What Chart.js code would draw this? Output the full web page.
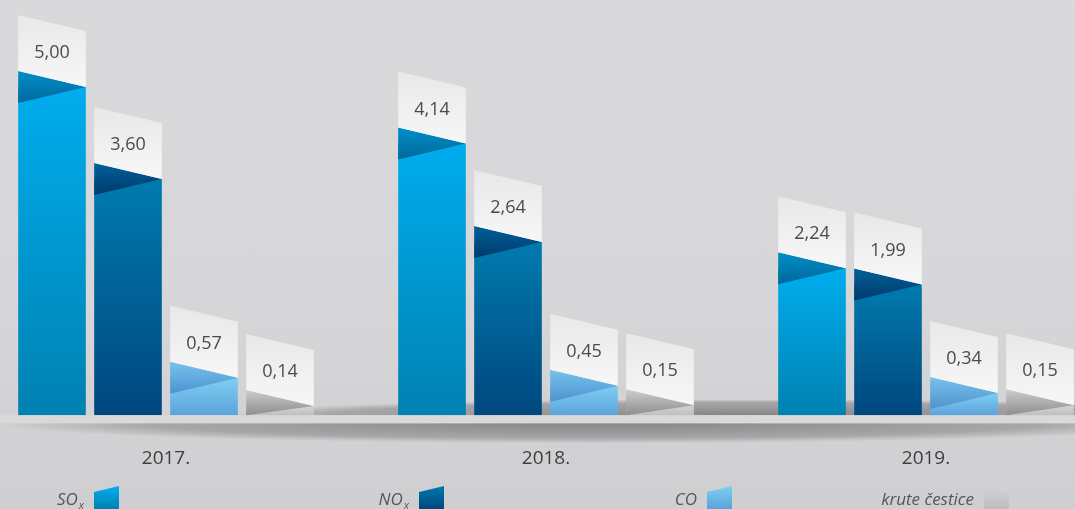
<!DOCTYPE html>
<html>
<head>
<meta charset="utf-8">
<script src="https://cdn.jsdelivr.net/npm/chart.js@4"></script>
<style>
  html, body {
    margin: 0;
    padding: 0;
    width: 1075px;
    height: 509px;
    overflow: hidden;
    background: linear-gradient(180deg, #d9d9db 0%, #d7d7d9 55%, #cfcfd1 100%);
  }
  #wrap { position: absolute; left: -24px; top: 0; width: 1140px; height: 509px; }
</style>
</head>
<body>
<div id="wrap"><canvas id="emissionsChart" width="1140" height="509"></canvas></div>
<script>
// Data
const years = ['2017.', '2018.', '2019.'];
const seriesNames = ['SOx', 'NOx', 'CO', 'krute čestice'];
const subscriptChars = [1, 1, 0, 0];
const soValues = [5.00, 4.14, 2.24];
const noValues = [3.60, 2.64, 1.99];
const coValues = [0.57, 0.45, 0.34];
const dustValues = [0.14, 0.15, 0.15];
const seriesValues = [soValues, noValues, coValues, dustValues];

// Colours per series
const palette = [
    { top: '#00adee', bottom: '#0081b1', foldTop: '#0090c8', foldBottom: '#00679b' },
    { top: '#007bae', bottom: '#00467e', foldTop: '#00609a', foldBottom: '#003a6c' },
    { top: '#7fcff2', bottom: '#5aa2db', foldTop: '#76c2ee', foldBottom: '#4f93cf' },
    { top: '#d4d4d6', bottom: '#bdbdbf', foldTop: '#cdcdcf', foldBottom: '#8e8e91' }
];

const FONT = '"Open Sans", "Noto Sans", sans-serif';

function barGradient(context) {
    const chart = context.chart;
    const colors = palette[context.datasetIndex];
    if (!chart.chartArea || context.type !== 'data') return colors.bottom;
    const yScale = chart.scales.y;
    const top = yScale.getPixelForValue(context.raw);
    const base = yScale.getPixelForValue(0);
    const g = chart.ctx.createLinearGradient(0, top, 0, base + 1);
    g.addColorStop(0, colors.top);
    g.addColorStop(1, colors.bottom);
    return g;
}

function formatValue(v) {
    return v.toFixed(2).replace('.', ',');
}

// shadowed shelf the bars stand on
const shelfPlugin = {
    id: 'shelf',
    beforeDatasetsDraw(chart) {
        const ctx = chart.ctx;
        const base = chart.scales.y.getPixelForValue(0);
        const w = chart.width;

        // darker band behind the bar feet
        ctx.save();
        ctx.beginPath();
        ctx.rect(0, base - 16, w, 16);
        ctx.clip();
        ctx.translate(770, base);
        ctx.scale(1, 16 / 520);
        let rg = ctx.createRadialGradient(0, 0, 0, 0, 0, 520);
        rg.addColorStop(0, 'rgba(85,85,88,0.6)');
        rg.addColorStop(0.8, 'rgba(85,85,88,0.35)');
        rg.addColorStop(1, 'rgba(85,85,88,0)');
        ctx.fillStyle = rg;
        ctx.fillRect(-520, -520, 1040, 1040);
        ctx.restore();

        // shadow under the shelf
        ctx.save();
        ctx.beginPath();
        ctx.rect(0, base + 8, w, 30);
        ctx.clip();
        ctx.translate(620, base + 8);
        ctx.scale(1, 20 / 600);
        rg = ctx.createRadialGradient(0, 0, 0, 0, 0, 600);
        rg.addColorStop(0, 'rgba(70,70,72,0.55)');
        rg.addColorStop(0.75, 'rgba(70,70,72,0.3)');
        rg.addColorStop(1, 'rgba(70,70,72,0)');
        ctx.fillStyle = rg;
        ctx.fillRect(-600, -600, 1200, 1200);
        ctx.restore();

        // light shelf strip
        ctx.fillStyle = '#d9d9da';
        ctx.fillRect(0, base, w, 8);
    }
};

// folded value tags on top of each bar
const ribbonPlugin = {
    id: 'ribbons',
    afterDatasetsDraw(chart) {
        const ctx = chart.ctx;
        const fold = 16, tag = 56;
        chart.data.datasets.forEach((ds, di) => {
            const meta = chart.getDatasetMeta(di);
            const colors = palette[di];
            meta.data.forEach((bar, i) => {
                const { x, y, base, width } = bar.getProps(['x', 'y', 'base', 'width'], true);
                const left = x - width / 2;
                const right = x + width / 2;
                const foldBottom = Math.min(y + fold, base);

                ctx.save();
                let g = ctx.createLinearGradient(0, y - fold, 0, foldBottom);
                g.addColorStop(0, colors.foldTop);
                g.addColorStop(1, colors.foldBottom);
                ctx.fillStyle = g;
                ctx.beginPath();
                ctx.moveTo(left, y - fold);
                ctx.lineTo(right, y);
                ctx.lineTo(left, foldBottom);
                ctx.closePath();
                ctx.fill();

                g = ctx.createLinearGradient(0, y - fold - tag, 0, y);
                g.addColorStop(0, '#e8e8e9');
                g.addColorStop(1, '#f7f7f7');
                ctx.fillStyle = g;
                ctx.beginPath();
                ctx.moveTo(left, y - fold - tag);
                ctx.lineTo(right, y - tag);
                ctx.lineTo(right, y);
                ctx.lineTo(left, y - fold);
                ctx.closePath();
                ctx.fill();

                ctx.fillStyle = '#4b4b4d';
                ctx.font = '18px ' + FONT;
                ctx.textAlign = 'center';
                ctx.textBaseline = 'middle';
                ctx.fillText(formatValue(ds.data[i]), x, y - tag / 2 - fold / 2 + 2);
                ctx.restore();
            });
        });
    }
};

// legend: label followed by a small slanted swatch
const legendPlugin = {
    id: 'swatchLegend',
    afterDraw(chart) {
        const ctx = chart.ctx;
        const swatchX = [118, 443, 731, 1008];
        const sw = 25;
        chart.data.datasets.forEach((ds, di) => {
            const sx = swatchX[di];
            const colors = palette[di];
            ctx.save();
            const g = ctx.createLinearGradient(0, 486, 0, 509);
            g.addColorStop(0, colors.top);
            g.addColorStop(1, colors.bottom);
            ctx.fillStyle = g;
            ctx.beginPath();
            ctx.moveTo(sx, 492);
            ctx.lineTo(sx + sw, 486);
            ctx.lineTo(sx + sw, 509);
            ctx.lineTo(sx, 509);
            ctx.closePath();
            ctx.fill();

            const label = ds.label;
            const n = subscriptChars[di];
            const main = label.slice(0, label.length - n);
            const sub = label.slice(label.length - n);
            let rightX = sx - 10;
            ctx.fillStyle = '#565658';
            ctx.textAlign = 'right';
            ctx.textBaseline = 'alphabetic';
            if (sub) {
                ctx.font = 'italic 11px ' + FONT;
                ctx.fillText(sub, rightX, 509);
                rightX -= ctx.measureText(sub).width + 1;
            }
            ctx.font = 'italic 17px ' + FONT;
            ctx.fillText(main, rightX, 505);
            ctx.restore();
        });
    }
};

document.addEventListener('DOMContentLoaded', function() {
    const ctx = document.getElementById('emissionsChart').getContext('2d');

    new Chart(ctx, {
        type: 'bar',
        data: {
            labels: years,
            datasets: seriesValues.map((values, i) => ({
                label: seriesNames[i],
                data: values,
                backgroundColor: barGradient,
                borderWidth: 0,
                categoryPercentage: 0.8,
                barPercentage: 0.89
            }))
        },
        options: {
            responsive: false,
            animation: false,
            layout: {
                padding: { top: 87, bottom: 15, left: 0, right: 0 }
            },
            plugins: {
                legend: { display: false },
                tooltip: { enabled: false }
            },
            scales: {
                y: {
                    display: false,
                    min: 0,
                    max: 5
                },
                x: {
                    grid: { display: false },
                    border: { display: false },
                    ticks: {
                        padding: 24,
                        color: '#3e3e40',
                        font: { family: FONT, size: 19 }
                    }
                }
            }
        },
        plugins: [shelfPlugin, ribbonPlugin, legendPlugin]
    });
});
</script>
</body>
</html>
